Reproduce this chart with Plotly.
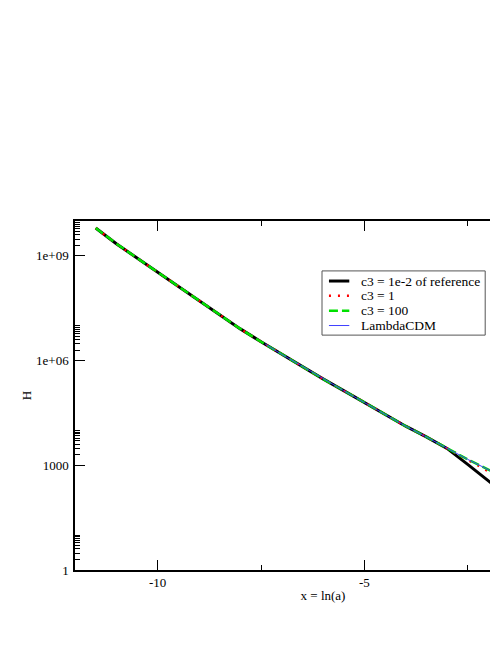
import plotly.graph_objects as go

# x = ln(a)
x_all = [-11.5, -11.0, -10.5, -10.0, -9.5, -9.0, -8.5, -8.0, -7.5, -7.0, -6.5, -6.0,
         -5.5, -5.0, -4.5, -4.0, -3.5, -3.25, -3.0, -2.5, -2.0, -1.8]
h_c3_small = [6.3e9, 2.24e9, 8.7e8, 3.4e8, 1.29e8, 5.1e7, 2.04e7, 8.1e6, 3.47e6, 1.51e6, 6.9e5, 3.0e5,
              1.38e5, 6.3e4, 2.9e4, 1.32e4, 6.5e3, 4.4e3, 3.05e3, 1.06e3, 363, 234]
h_c3_1 = [6.3e9, 2.24e9, 8.7e8, 3.4e8, 1.29e8, 5.1e7, 2.04e7, 8.1e6, 3.47e6, 1.51e6, 6.9e5, 3.0e5,
          1.38e5, 6.3e4, 2.9e4, 1.32e4, 6.5e3, 4.45e3, 3.08e3, 1.45e3, 645, 500]
h_c3_100 = [6.3e9, 2.24e9, 8.7e8, 3.4e8, 1.29e8, 5.1e7, 2.04e7, 8.1e6, 3.47e6, 1.51e6, 6.9e5, 3.0e5,
            1.38e5, 6.3e4, 2.9e4, 1.32e4, 6.5e3, 4.45e3, 3.1e3, 1.48e3, 750, 575]

x_lcdm = [-7.4, -7.0, -6.5, -6.0, -5.5, -5.0, -4.5, -4.0, -3.5, -3.25, -3.0, -2.5, -2.0, -1.8]
h_lcdm = [3.0e6, 1.51e6, 6.9e5, 3.0e5, 1.38e5, 6.3e4, 2.9e4, 1.32e4, 6.5e3, 4.45e3, 3.1e3, 1.48e3, 750, 575]

names = ["c3 = 1e-2 of reference", "c3 = 1", "c3 = 100", "LambdaCDM"]

x_major = [-10, -5, 0]
x_major_text = ["-10", "-5", "0"]
y_major = [1, 1e3, 1e6, 1e9]
y_major_text = ["1", "1000", "1e+06", "1e+09"]
y_minor = [k * 10 ** d for d in (0, 3, 6, 9) for k in range(2, 11)]

serif = "Liberation Serif"
styles = [
    dict(color="black", width=3),
    dict(color="red", width=2.5, dash="2px,7px"),
    dict(color="#00e000", width=2.5, dash="9px,4px"),
    dict(color="#3f3fff", width=1),
]

fig = go.Figure()
for xs, ys, name, st in zip([x_all, x_all, x_all, x_lcdm],
                            [h_c3_small, h_c3_1, h_c3_100, h_lcdm], names, styles):
    fig.add_trace(go.Scatter(x=xs, y=ys, mode="lines", name=name, line=st, showlegend=False))

fig.update_xaxes(
    range=[-12, 0], tickmode="array", tickvals=x_major, ticktext=x_major_text,
    ticks="inside", ticklen=10, tickwidth=1, tickcolor="black",
    showline=True, linecolor="black", linewidth=1.5, mirror="ticks",
    showgrid=False, zeroline=False,
    minor=dict(tickmode="array", tickvals=[-12.5, -7.5, -2.5], ticks="inside", ticklen=5,
               tickcolor="black", showgrid=False),
    tickfont=dict(family=serif, size=13, color="black"),
    title=dict(text="x = ln(a)", font=dict(family=serif, size=13, color="black"), standoff=2),
)
fig.update_yaxes(
    type="log", range=[0, 10], tickmode="array", tickvals=y_major, ticktext=y_major_text,
    ticks="inside", ticklen=10, tickwidth=1, tickcolor="black",
    showline=True, linecolor="black", linewidth=1.5, mirror="ticks",
    showgrid=False, zeroline=False, ticklabelstandoff=2,
    minor=dict(tickmode="array", tickvals=y_minor, ticks="inside", ticklen=5,
               tickcolor="black", showgrid=False),
    tickfont=dict(family=serif, size=13, color="black"),
    title=dict(text="H", font=dict(family=serif, size=13, color="black"), standoff=1),
)

# legend box drawn by hand (Grace-like compact rows)
box_x0, box_x1, box_y0, box_y1 = 0.498, 0.827, 0.673, 0.857
row_step = 0.0425
fig.add_shape(type="rect", xref="paper", yref="paper", x0=box_x0, x1=box_x1, y0=box_y0, y1=box_y1,
              line=dict(color="#555", width=1), fillcolor="white")
for i, (name, st) in enumerate(zip(names, styles)):
    ry = box_y1 - 0.029 - i * row_step
    fig.add_shape(type="line", xref="paper", yref="paper", x0=0.512, x1=0.553, y0=ry, y1=ry, line=st)
    fig.add_annotation(xref="paper", yref="paper", x=0.572, y=ry, text=name, showarrow=False,
                       xanchor="left", yanchor="middle",
                       font=dict(family=serif, size=13.5, color="black"))

# the page body has an 8px margin; the plot runs past the right edge of the window
fig.update_layout(
    width=565, height=637,
    margin=dict(l=67, r=0, t=213, b=75),
    paper_bgcolor="white", plot_bgcolor="white",
    font=dict(family=serif, size=13, color="black"),
)

fig.write_html("out.html")
